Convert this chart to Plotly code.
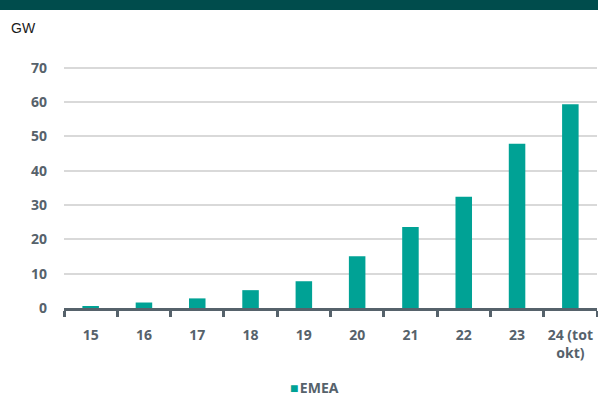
import plotly.graph_objects as go

categories = ["15", "16", "17", "18", "19", "20", "21", "22", "23", "24 (tot<br>okt)"]
emea = [0.5, 1.6, 2.8, 5.2, 7.8, 15.1, 23.6, 32.4, 47.9, 59.4]
y_ticks = [0, 10, 20, 30, 40, 50, 60, 70]
series_name = "EMEA"

W, H = 598, 398
mt, mb, ml, mr = 61, 90, 64, 1
ph = H - mt - mb
pw = W - ml - mr

txt_col = "#56626b"
bar_col = "#00a295"
font_fam = "'Noto Sans', sans-serif"

fig = go.Figure()
fig.add_trace(go.Bar(x=categories, y=emea, name=series_name, showlegend=False,
                     marker=dict(color=bar_col, line=dict(width=0))))

fig.update_layout(
    width=W, height=H,
    margin=dict(t=mt, b=mb, l=ml, r=mr, autoexpand=False),
    paper_bgcolor="white", plot_bgcolor="white",
    bargap=0.69,
    showlegend=False,
    xaxis=dict(type="category", showline=True, linecolor=txt_col, linewidth=3,
               ticks="outside", tickson="boundaries", ticklen=6, tickwidth=3, tickcolor=txt_col,
               tickfont=dict(family=font_fam, size=14, color=txt_col, weight="bold"),
               tickangle=0, ticklabelstandoff=12, automargin=False,
               showgrid=False, range=[-0.5, 9.5], fixedrange=True),
    yaxis=dict(range=[0, 72], tickvals=y_ticks, showgrid=True, gridcolor="#d9d9d9", gridwidth=1.5,
               zeroline=False, showline=False, ticks="", automargin=False,
               tickfont=dict(family=font_fam, size=14, color=txt_col, weight="bold"),
               ticklabelstandoff=16),
    shapes=[dict(type="rect", xref="paper", yref="paper", x0=-ml / pw - 0.01, x1=1.01,
                 y0=1 + (mt - 10) / ph, y1=1 + (mt + 5) / ph, fillcolor="#004c4c", line=dict(width=0),
                 layer="above")],
    annotations=[
        dict(text="GW", xref="paper", yref="paper", x=-(ml - 9) / pw,
             xanchor="left", y=1 + (mt - 28) / ph, yanchor="middle", showarrow=False,
             font=dict(family="Liberation Sans, Arial, sans-serif", size=14, color="#1a1a1a")),
        dict(text=f"<span style='color:{bar_col}'>■</span>\u200a{series_name}",
             xref="paper", yref="paper",
             x=(288 - ml) / pw, xanchor="left", y=(308 - 387) / ph, yanchor="middle", showarrow=False,
             font=dict(family=font_fam, size=14, color=txt_col, weight="bold")),
    ],
)

fig.write_html("out.html")
